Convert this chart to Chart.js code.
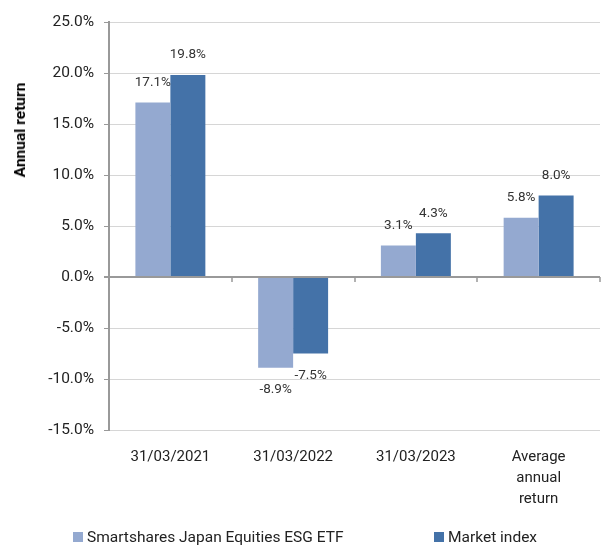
<!DOCTYPE html>
<html>
<head>
<meta charset="utf-8">
<script src="https://cdn.jsdelivr.net/npm/chart.js@4/dist/chart.umd.min.js"></script>
<style>
  body { margin: 0; background: #fff; font-family: Roboto, sans-serif; }
  #wrap { position: relative; width: 602px; height: 545px; }
  #ytitle {
    position: absolute; left: 20px; top: 130px;
    transform: translate(-50%, -50%) rotate(-90deg);
    font: bold 15.5px Roboto, sans-serif; color: #000; white-space: nowrap;
  }
  .leg { position: absolute; top: 527px; font-size: 15.5px; color: #222; white-space: nowrap; line-height: 20px; }
  .leg i { display: inline-block; width: 10px; height: 10px; margin-right: 4px; vertical-align: 0px; }
</style>
</head>
<body>
<div id="wrap">
  <canvas id="chart" width="602" height="545"></canvas>
  <div id="ytitle">Annual return</div>
  <div class="leg" style="left:73px"><i style="background:#94a9d0"></i>Smartshares Japan Equities ESG ETF</div>
  <div class="leg" style="left:434px"><i style="background:#4472a8"></i>Market index</div>
</div>
<script>
"use strict"

const categories = ["31/03/2021", "31/03/2022", "31/03/2023", ["Average", "annual", "return"]];
const fundReturns = [17.1, -8.9, 3.1, 5.8];
const indexReturns = [19.8, -7.5, 4.3, 8.0];
const seriesNames = ["Smartshares Japan Equities ESG ETF", "Market index"];
const seriesColors = ["#94a9d0", "#4472a8"];

// value labels above / below each bar
const barLabels = {
    id: 'barLabels',
    afterDatasetsDraw(chart) {
        const ctx = chart.ctx;
        ctx.save();
        ctx.font = '13.5px Roboto, sans-serif';
        ctx.fillStyle = '#333';
        ctx.textAlign = 'center';
        ctx.textBaseline = 'middle';
        chart.data.datasets.forEach((ds, i) => {
            chart.getDatasetMeta(i).data.forEach((bar, j) => {
                const v = ds.data[j];
                const y = v >= 0 ? bar.y - 20 : bar.y + 22;
                ctx.fillText(v.toFixed(1) + '%', bar.x, y);
            });
        });
        ctx.restore();
    }
};

// small tick marks on the zero line between categories
const zeroTicks = {
    id: 'zeroTicks',
    afterDraw(chart) {
        const x = chart.scales.x, y = chart.scales.y;
        const y0 = y.getPixelForValue(0);
        const step = (x.right - x.left) / categories.length;
        const ctx = chart.ctx;
        ctx.save();
        ctx.strokeStyle = '#999';
        ctx.lineWidth = 1.5;
        for (let i = 0; i <= categories.length; i++) {
            const px = Math.round(x.left + i * step);
            ctx.beginPath();
            ctx.moveTo(px, y0);
            ctx.lineTo(px, y0 + 5);
            ctx.stroke();
        }
        ctx.restore();
    }
};

new Chart("chart", {
    type: "bar",
    data: {
        labels: categories,
        datasets: [{
            label: seriesNames[0],
            data: fundReturns,
            backgroundColor: seriesColors[0]
        }, {
            label: seriesNames[1],
            data: indexReturns,
            backgroundColor: seriesColors[1]
        }]
    },
    options: {
        responsive: false,
        animation: false,
        layout: { padding: { top: 22, right: 2, left: 0, bottom: 0 } },
        plugins: {
            legend: { display: false },
            tooltip: { enabled: false }
        },
        datasets: {
            bar: { categoryPercentage: 0.57, barPercentage: 1 }
        },
        scales: {
            x: {
                grid: { display: false },
                border: { display: false },
                ticks: {
                    color: '#222',
                    font: { family: 'Roboto', size: 15, lineHeight: 1.4 },
                    padding: 9,
                    maxRotation: 0
                },
                afterFit(scale) { scale.height = 115; }
            },
            y: {
                min: -15,
                max: 25,
                ticks: {
                    stepSize: 5,
                    color: '#222',
                    font: { family: 'Roboto', size: 15.5 },
                    padding: 10,
                    callback: v => v.toFixed(1) + '%'
                },
                grid: {
                    color: ctx => ctx.tick && ctx.tick.value === 0 ? '#999' : '#d6d6d6',
                    lineWidth: ctx => ctx.tick && ctx.tick.value === 0 ? 2 : 1,
                    tickColor: '#999',
                    tickLength: 5
                },
                border: { color: '#999', width: 2 },
                afterFit(scale) { scale.width = 109; }
            }
        }
    },
    plugins: [barLabels, zeroTicks]
});
</script>
</body>
</html>
